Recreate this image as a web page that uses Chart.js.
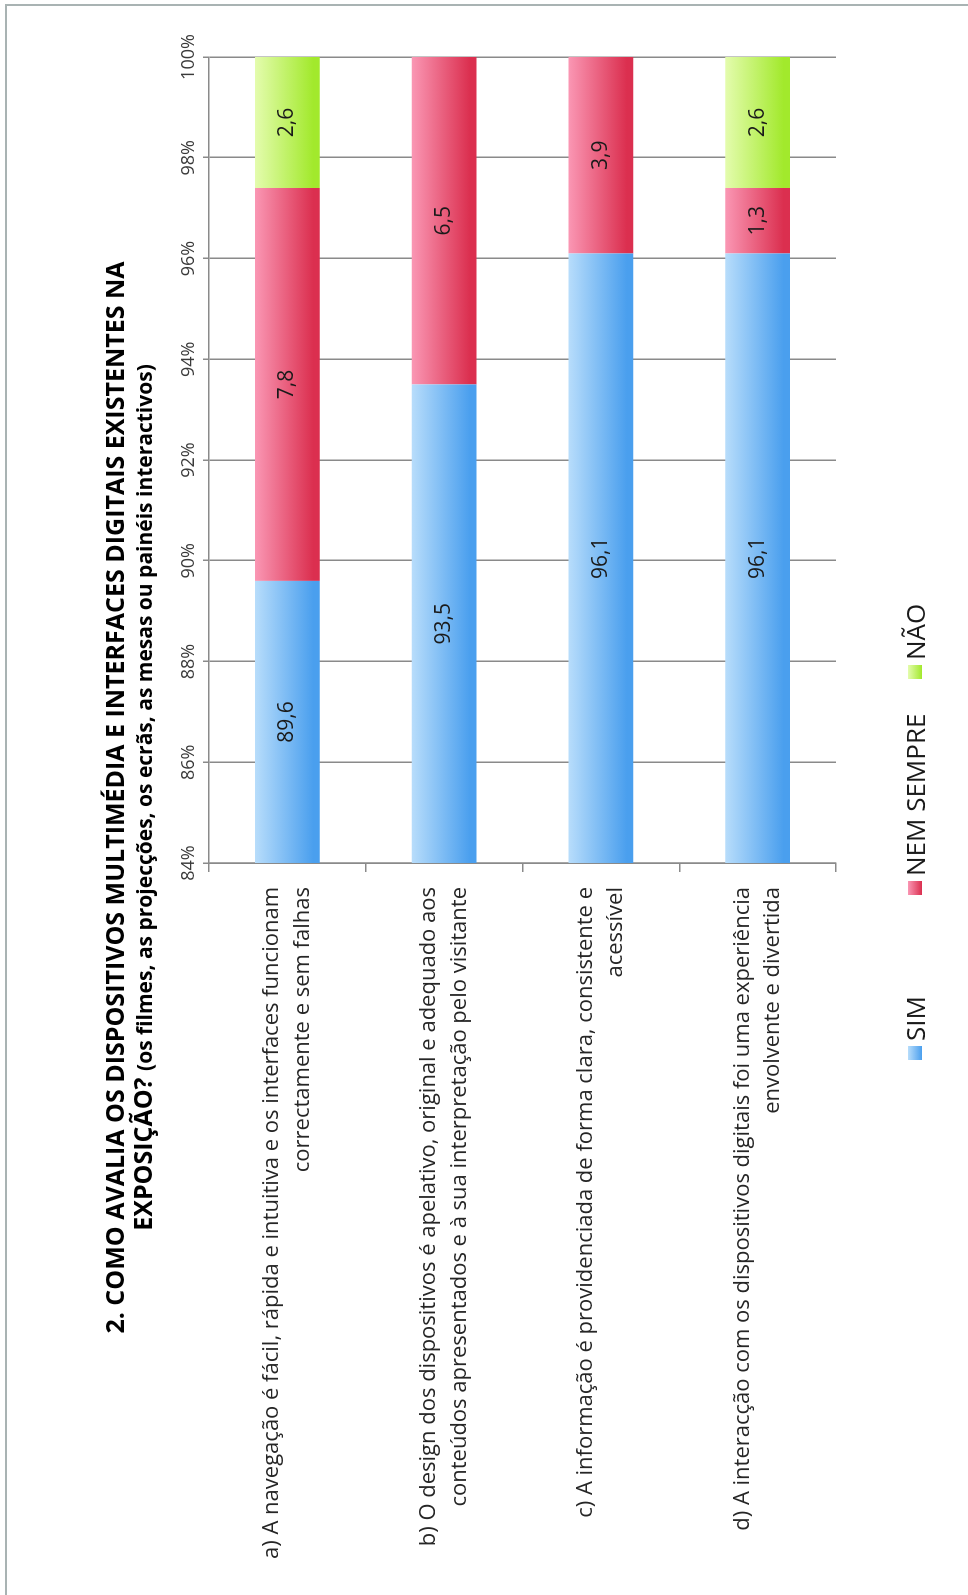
<!DOCTYPE html>
<html>
<head>
<meta charset="utf-8">
<script src="https://cdn.jsdelivr.net/npm/chart.js@4.4.1/dist/chart.umd.min.js"></script>
<style>
  html, body { margin: 0; padding: 0; background: #fff; overflow: hidden; }
  body { width: 968px; height: 1595px; position: relative; }
  /* the sheet is laid out in landscape and turned a quarter turn */
  #page {
    position: absolute; left: 0; top: 0;
    width: 1595px; height: 968px;
    transform-origin: 0 0;
    transform: translate(0, 1595px) rotate(-90deg);
    background: #fff;
    font-family: "Open Sans", sans-serif;
    overflow: hidden;
  }
  #frame {
    position: absolute; left: -3px; top: 5px;
    width: 1592px; height: 980px;
    border-top: 2px solid #a9b3b3;
    border-right: 2px solid #a9b3b3;
  }
  #chart { position: absolute; left: 0; top: 0; }
  #title {
    position: absolute; left: 0; top: 100px; width: 1595px;
    text-align: center; color: #000;
    font-weight: 700; font-size: 25px; line-height: 28px;
    white-space: nowrap;
  }
  #title .sub { font-size: 21px; }
  .key {
    position: absolute; top: 900px; height: 30px;
    display: flex; align-items: center;
    font-size: 26px; line-height: 30px; color: #1a1a1a;
    white-space: nowrap;
  }
  .key i { display: block; width: 14px; height: 14px; margin-right: 5px; }
</style>
</head>
<body>
<div id="page">
  <div id="frame"></div>
  <canvas id="chart" width="1595" height="968"></canvas>
  <div id="title">2. COMO AVALIA OS DISPOSITIVOS MULTIMÉDIA E INTERFACES DIGITAIS EXISTENTES NA<br>EXPOSIÇÃO? <span class="sub">(os filmes, as projecções, os ecrãs, as mesas ou painéis interactivos)</span></div>
</div>
<script>
// Statements rated by the visitors (two-line labels)
const categories = [
  ['a) A navegação é fácil, rápida e intuitiva e os interfaces funcionam', 'correctamente e sem falhas'],
  ['b) O design dos dispositivos é apelativo, original e adequado aos', 'conteúdos apresentados e à sua interpretação pelo visitante'],
  ['c) A informação é providenciada de forma clara, consistente e', 'acessível'],
  ['d) A interacção com os dispositivos digitais foi uma experiência', 'envolvente e divertida']
];
const seriesNames = ['SIM', 'NEM SEMPRE', 'NÃO'];
// percentages per answer
const simValues = [89.6, 93.5, 96.1, 96.1];
const nemSempreValues = [7.8, 6.5, 3.9, 1.3];
const naoValues = [2.6, null, null, 2.6];
// value axis range and step (%)
const axisMin = 84;
const axisMax = 100;
const axisStep = 2;

const BAR_FRACTION = 0.414;
const FONT = "'Open Sans', sans-serif";

// light / middle / deep tone of each answer
const tones = [
  ['#b8ddfb', '#79bbf4', '#4a9fee'],
  ['#fa97b4', '#ec5f7f', '#db2f4f'],
  ['#e4fcae', '#c4f46c', '#a2e92c']
];

// light-to-deep shading across each bar
function shaded(t) {
  const [light, mid, deep] = t;
  return (ctx) => {
    const chart = ctx.chart;
    const ys = chart.scales && chart.scales.y;
    if (ctx.type !== 'data' || !ys || !ys.height) return mid;
    const c = ys.getPixelForValue(ctx.dataIndex);
    const half = ys.height / categories.length * BAR_FRACTION / 2;
    const g = chart.ctx.createLinearGradient(0, c - half, 0, c + half);
    g.addColorStop(0, light);
    g.addColorStop(0.9, deep);
    g.addColorStop(1, deep);
    return g;
  };
}

const fmt = (v) => v.toFixed(1).replace('.', ',');

// value written in the middle of the visible part of every segment
const segmentValues = {
  id: 'segmentValues',
  afterDatasetsDraw(chart) {
    const { ctx, chartArea } = chart;
    ctx.save();
    ctx.font = "21px " + FONT;
    ctx.fillStyle = '#1a1a1a';
    ctx.textAlign = 'center';
    ctx.textBaseline = 'middle';
    chart.data.datasets.forEach((ds, i) => {
      const meta = chart.getDatasetMeta(i);
      meta.data.forEach((bar, j) => {
        const v = ds.data[j];
        if (v == null) return;
        const p = bar.getProps(['x', 'base', 'y'], true);
        const x0 = Math.max(Math.min(p.x, p.base), chartArea.left);
        const x1 = Math.min(Math.max(p.x, p.base), chartArea.right);
        ctx.fillText(fmt(v), (x0 + x1) / 2, p.y);
      });
    });
    ctx.restore();
  }
};

Chart.defaults.font.family = FONT;

const chart = new Chart(document.getElementById('chart'), {
  type: 'bar',
  data: {
    labels: categories,
    datasets: [
      { label: seriesNames[0], data: simValues, backgroundColor: shaded(tones[0]) },
      { label: seriesNames[1], data: nemSempreValues, backgroundColor: shaded(tones[1]) },
      { label: seriesNames[2], data: naoValues, backgroundColor: shaded(tones[2]) }
    ]
  },
  options: {
    indexAxis: 'y',
    responsive: false,
    animation: false,
    devicePixelRatio: 1,
    layout: { padding: { top: 0, left: 0, right: 57, bottom: 132 } },
    datasets: { bar: { barPercentage: BAR_FRACTION, categoryPercentage: 1, borderWidth: 0 } },
    scales: {
      x: {
        position: 'top',
        stacked: true,
        min: axisMin,
        max: axisMax,
        afterFit: (s) => { s.height = 209; },
        ticks: {
          stepSize: axisStep,
          padding: 3,
          color: '#3a3a3a',
          font: { size: 18 },
          callback: (v) => v + '%'
        },
        grid: { color: '#8a8a8a', lineWidth: 1.5, tickLength: 6, drawTicks: true },
        border: { display: true, color: '#8a8a8a', width: 1.5 }
      },
      y: {
        stacked: true,
        afterFit: (s) => { s.width = 732; },
        ticks: {
          padding: 15,
          color: '#262626',
          font: { size: 22, lineHeight: 1.38 }
        },
        grid: { display: true, drawOnChartArea: false, offset: true, tickLength: 9, color: '#8a8a8a', lineWidth: 1.5 },
        border: { display: true, color: '#8a8a8a', width: 1.5 }
      }
    },
    plugins: {
      title: { display: false },
      tooltip: { enabled: false },
      legend: { display: false }
    }
  },
  plugins: [segmentValues]
});

// legend row under the plot, built from the chart's own series
const legendSlots = [535, 700, 916];
const page = document.getElementById('page');
chart.data.datasets.forEach((ds, i) => {
  const item = document.createElement('div');
  item.className = 'key';
  item.style.left = legendSlots[i] + 'px';
  const sw = document.createElement('i');
  sw.style.background = 'linear-gradient(to bottom,' + tones[i][0] + ',' + tones[i][2] + ')';
  const tx = document.createElement('span');
  tx.textContent = ds.label;
  item.appendChild(sw);
  item.appendChild(tx);
  page.appendChild(item);
});
</script>
</body>
</html>
